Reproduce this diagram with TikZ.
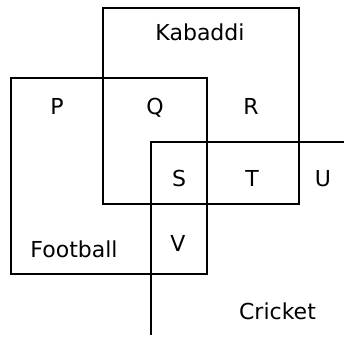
\documentclass[tikz,border=0pt]{standalone}
\usepackage{fontspec}
\setmainfont{DejaVu Sans}
\begin{document}
\begin{tikzpicture}[x=1pt, y=-1pt, line width=1.5pt,
    lbl/.style={font=\fontsize{22}{25}\selectfont, inner sep=0pt,
      text height=16pt, text depth=0pt}]
        \useasboundingbox (0,0) rectangle (344,337);

        % Kabaddi
        \draw (103, 8) rectangle (299, 204);
        \node[lbl] (kabaddi) at (200, 32.5) {Kabaddi};

        % Football
        \draw (11, 78) rectangle (207, 274);
        \node[lbl] (football) at (74, 249.5) {Football};

        % Cricket
        \draw (344, 142) -- (151, 142) -- (151, 335);
        \node[lbl] (cricket) at (277.5, 311.5) {Cricket};

        \node[lbl] (p) at (57, 106) {P};
        \node[lbl] (q) at (155, 106) {Q};
        \node[lbl] (r) at (251, 106) {R};

        \node[lbl] (s) at (179, 178) {S};
        \node[lbl] (t) at (252, 178) {T};
        \node[lbl] (u) at (323, 178) {U};

        \node[lbl] (v) at (178, 243) {V};

    \end{tikzpicture}
\end{document}
